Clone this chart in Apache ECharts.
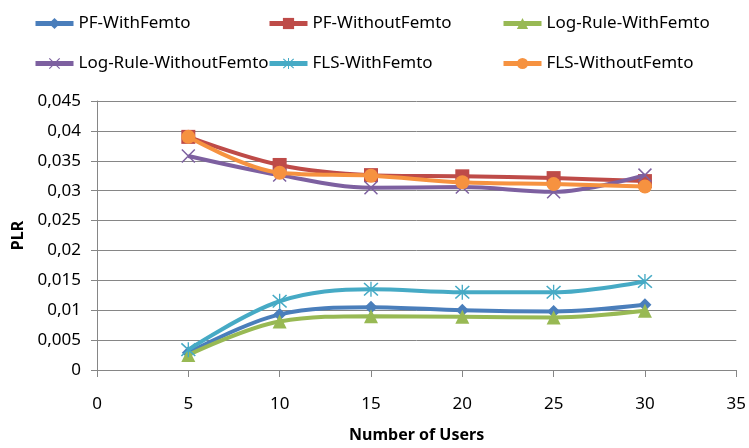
<!DOCTYPE html>
<html>
<head>
<meta charset="utf-8">
<script src="https://cdn.jsdelivr.net/npm/echarts@6/dist/echarts.min.js"></script>
<style>html,body{margin:0;padding:0;background:#fff;}#c{width:749px;height:448px;}</style>
</head>
<body>
<div id="c"></div>
<script>
const xValues = [5, 10, 15, 20, 25, 30];
const pfWith = [0.0029, 0.0093, 0.0105, 0.0100, 0.0098, 0.0109];
const pfWithout = [0.0390, 0.0343, 0.0326, 0.0324, 0.0321, 0.0316];
const logWith = [0.0025, 0.0081, 0.0090, 0.0089, 0.0088, 0.0099];
const logWithout = [0.0358, 0.0326, 0.0305, 0.0306, 0.0298, 0.0326];
const flsWith = [0.0034, 0.0115, 0.0135, 0.0130, 0.0130, 0.0148];
const flsWithout = [0.0390, 0.0330, 0.0325, 0.0314, 0.0311, 0.0307];
const seriesNames = ['PF-WithFemto', 'PF-WithoutFemto', 'Log-Rule-WithFemto', 'Log-Rule-WithoutFemto', 'FLS-WithFemto', 'FLS-WithoutFemto'];

const X_PATH = 'path://M0,1.5L1.5,0L20,18.5L18.5,20Z M18.5,0L20,1.5L1.5,20L0,18.5Z';
const STAR_PATH = 'path://M0,1.5L1.5,0L20,18.5L18.5,20Z M18.5,0L20,1.5L1.5,20L0,18.5Z M9.1,-1L10.9,-1L10.9,21L9.1,21Z';

const FONT = 'Noto Sans';
const chart = echarts.init(document.getElementById('c'), null, {renderer: 'canvas'});

function pairs(arr) { return xValues.map((x, i) => [x, arr[i]]); }

const defs = [
  {data: pfWith, color: '#4A7EBB', symbol: 'diamond', size: 13},
  {data: pfWithout, color: '#BE4B48', symbol: 'rect', size: 14},
  {data: logWith, color: '#98B954', symbol: 'triangle', size: 14},
  {data: logWithout, color: '#7D60A0', symbol: X_PATH, size: 14},
  {data: flsWith, color: '#46AAC5', symbol: STAR_PATH, size: 15},
  {data: flsWithout, color: '#F69240', symbol: 'circle', size: 14}
];

const series = defs.map((d, i) => ({
  name: seriesNames[i],
  type: 'line',
  data: pairs(d.data),
  smooth: 0.35,
  symbol: d.symbol,
  symbolSize: d.size,
  showAllSymbol: true,
  lineStyle: {color: d.color, width: 4},
  itemStyle: {color: d.color, borderWidth: 0},
  emphasis: {disabled: true},
  z: 2 + i
}));

function legendCol(left, names) {
  return {
    orient: 'vertical',
    left: left,
    top: 10,
    itemWidth: 38,
    itemHeight: 14,
    itemGap: 23,
    data: names,
    lineStyle: {width: 5},
    textStyle: {fontFamily: FONT, fontSize: 17, color: '#000'},
    selectedMode: false
  };
}

chart.setOption({
  animation: false,
  backgroundColor: '#fff',
  legend: [
    legendCol(28, [seriesNames[0], seriesNames[3]]),
    legendCol(262, [seriesNames[1], seriesNames[4]]),
    legendCol(496, [seriesNames[2], seriesNames[5]])
  ],
  grid: {left: 97, right: 11, top: 101, bottom: 77, containLabel: false},
  xAxis: {
    type: 'value',
    min: 0, max: 35, interval: 5,
    name: 'Number of Users',
    nameLocation: 'middle',
    nameGap: 57,
    nameTextStyle: {fontFamily: FONT, fontSize: 16, fontWeight: 'bold', color: '#000'},
    axisLine: {show: true, lineStyle: {color: '#868686', width: 1}},
    axisTick: {show: true, length: 7, lineStyle: {color: '#868686'}},
    axisLabel: {fontFamily: FONT, fontSize: 17, color: '#000', margin: 26},
    splitLine: {show: false}
  },
  yAxis: {
    type: 'value',
    min: 0, max: 0.045, interval: 0.005,
    name: 'PLR',
    nameLocation: 'middle',
    nameGap: 70,
    nameRotate: 90,
    nameTextStyle: {fontFamily: FONT, fontSize: 16, fontWeight: 'bold', color: '#000'},
    axisLine: {show: true, lineStyle: {color: '#868686', width: 1}},
    axisTick: {show: true, length: 6, lineStyle: {color: '#868686'}},
    axisLabel: {
      fontFamily: FONT, fontSize: 17, color: '#000', margin: 16,
      formatter: v => String(+v.toFixed(4)).replace('.', ',')
    },
    splitLine: {show: true, lineStyle: {color: '#868686', width: 1}}
  },
  series: series
});
</script>
</body>
</html>
